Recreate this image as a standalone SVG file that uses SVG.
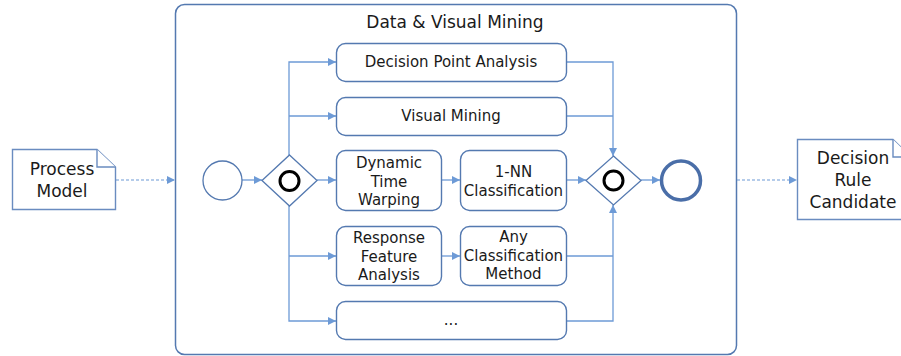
<svg xmlns="http://www.w3.org/2000/svg" width="901" height="356" viewBox="0 0 901 356">
<defs>
<style>
.box{fill:#fff;stroke:#5479b0;stroke-width:1.4}
.doc{fill:#fff;stroke:#6a8cc0;stroke-width:1.4}
.ln{fill:none;stroke:#6d9ad6;stroke-width:1.3}
.dash{fill:none;stroke:#6d9ad6;stroke-width:1.2;stroke-dasharray:3 2}
.t{font-family:"DejaVu Sans",sans-serif;font-size:15px;fill:#1a1a1a;text-anchor:middle}
.tl{font-family:"DejaVu Sans",sans-serif;font-size:17px;fill:#1a1a1a;text-anchor:middle}
.gw{fill:#fff;stroke:#5479b0;stroke-width:1.3}
.gc{fill:none;stroke:#000;stroke-width:3}
</style>
<marker id="ah" viewBox="0 0 10 10" refX="10" refY="5" markerWidth="8" markerHeight="8" markerUnits="userSpaceOnUse" orient="auto">
<path d="M0,0 L10,5 L0,10 z" fill="#6d9ad6"/>
</marker>
</defs>
<g id="container">
<rect x="175.5" y="4.5" width="561" height="350" rx="9" fill="#fff" stroke="#5479b0" stroke-width="1.5"/>
<text class="tl" x="455" y="28">Data &amp; Visual Mining</text>
</g>
<g id="connectors">
<path class="dash" d="M116,180 H175" marker-end="url(#ah)"/>
<path class="dash" d="M737,180 H797" marker-end="url(#ah)"/>
<path class="ln" d="M242,180 H262" marker-end="url(#ah)"/>
<path class="ln" d="M289,155 V62 H336" marker-end="url(#ah)"/>
<path class="ln" d="M289,116 H336" marker-end="url(#ah)"/>
<path class="ln" d="M289,206 V321 H336" marker-end="url(#ah)"/>
<path class="ln" d="M289,256 H336" marker-end="url(#ah)"/>
<path class="ln" d="M317,180 H336" marker-end="url(#ah)"/>
<path class="ln" d="M442,180 H460" marker-end="url(#ah)"/>
<path class="ln" d="M442,256 H460" marker-end="url(#ah)"/>
<path class="ln" d="M567,180 H586" marker-end="url(#ah)"/>
<path class="ln" d="M567,62 H613 V156" marker-end="url(#ah)"/>
<path class="ln" d="M567,116 H613"/>
<path class="ln" d="M567,321 H613 V205" marker-end="url(#ah)"/>
<path class="ln" d="M567,256 H613"/>
<path class="ln" d="M641,180 H660" marker-end="url(#ah)"/>
</g>
<g id="process-model">
<path class="doc" d="M12.5,149.5 H97 L115.5,167 V209.5 H12.5 Z"/>
<path class="doc" d="M97,149.5 V167 H115.5" fill="none"/>
<text class="tl" x="62" y="175">Process</text>
<text class="tl" x="62" y="197">Model</text>
</g>
<g id="decision-rule-candidate">
<path class="doc" d="M797.5,139.5 H893 L911,157 V219.5 H797.5 Z"/>
<path class="doc" d="M893,139.5 V157 H911" fill="none"/>
<text class="tl" x="853" y="164">Decision</text>
<text class="tl" x="853" y="186">Rule</text>
<text class="tl" x="853" y="208">Candidate</text>
</g>
<g id="start">
<circle cx="222.5" cy="180.5" r="19.5" fill="#fff" stroke="#5479b0" stroke-width="1.3"/>
</g>
<g id="split-gateway">
<path class="gw" d="M289.5,155 L317,180.5 L289.5,206 L262,180.5 Z"/>
<circle class="gc" cx="289.5" cy="181" r="9.5"/>
</g>
<g id="decision-point-analysis">
<rect class="box" x="336.5" y="43.5" width="230" height="38" rx="9"/>
<text class="t" x="451" y="67">Decision Point Analysis</text>
</g>
<g id="visual-mining">
<rect class="box" x="336.5" y="97.5" width="230" height="38" rx="9"/>
<text class="t" x="451" y="121">Visual Mining</text>
</g>
<g id="dynamic-time-warping">
<rect class="box" x="336.5" y="150.5" width="105" height="60" rx="9"/>
<text class="t" x="389" y="168">Dynamic</text>
<text class="t" x="389" y="186.5">Time</text>
<text class="t" x="389" y="205">Warping</text>
</g>
<g id="nn-classification">
<rect class="box" x="460.5" y="150.5" width="106" height="60" rx="9"/>
<text class="t" x="513.5" y="177">1-NN</text>
<text class="t" x="513.5" y="195.5">Classification</text>
</g>
<g id="response-feature-analysis">
<rect class="box" x="336.5" y="226.5" width="105" height="59" rx="9"/>
<text class="t" x="389" y="243">Response</text>
<text class="t" x="389" y="261.5">Feature</text>
<text class="t" x="389" y="280">Analysis</text>
</g>
<g id="any-classification-method">
<rect class="box" x="460.5" y="226.5" width="106" height="59" rx="9"/>
<text class="t" x="513.5" y="242">Any</text>
<text class="t" x="513.5" y="260.5">Classification</text>
<text class="t" x="513.5" y="279">Method</text>
</g>
<g id="more">
<rect class="box" x="336.5" y="301.5" width="230" height="38" rx="9"/>
<text class="t" x="451" y="325">...</text>
</g>
<g id="join-gateway">
<path class="gw" d="M613.5,156 L641,180.5 L613.5,205 L586,180.5 Z"/>
<circle class="gc" cx="613.5" cy="180.5" r="9.5"/>
</g>
<g id="end">
<circle cx="681" cy="180.5" r="19.5" fill="#fff" stroke="#4a6ea8" stroke-width="3.5"/>
</g>
</svg>
